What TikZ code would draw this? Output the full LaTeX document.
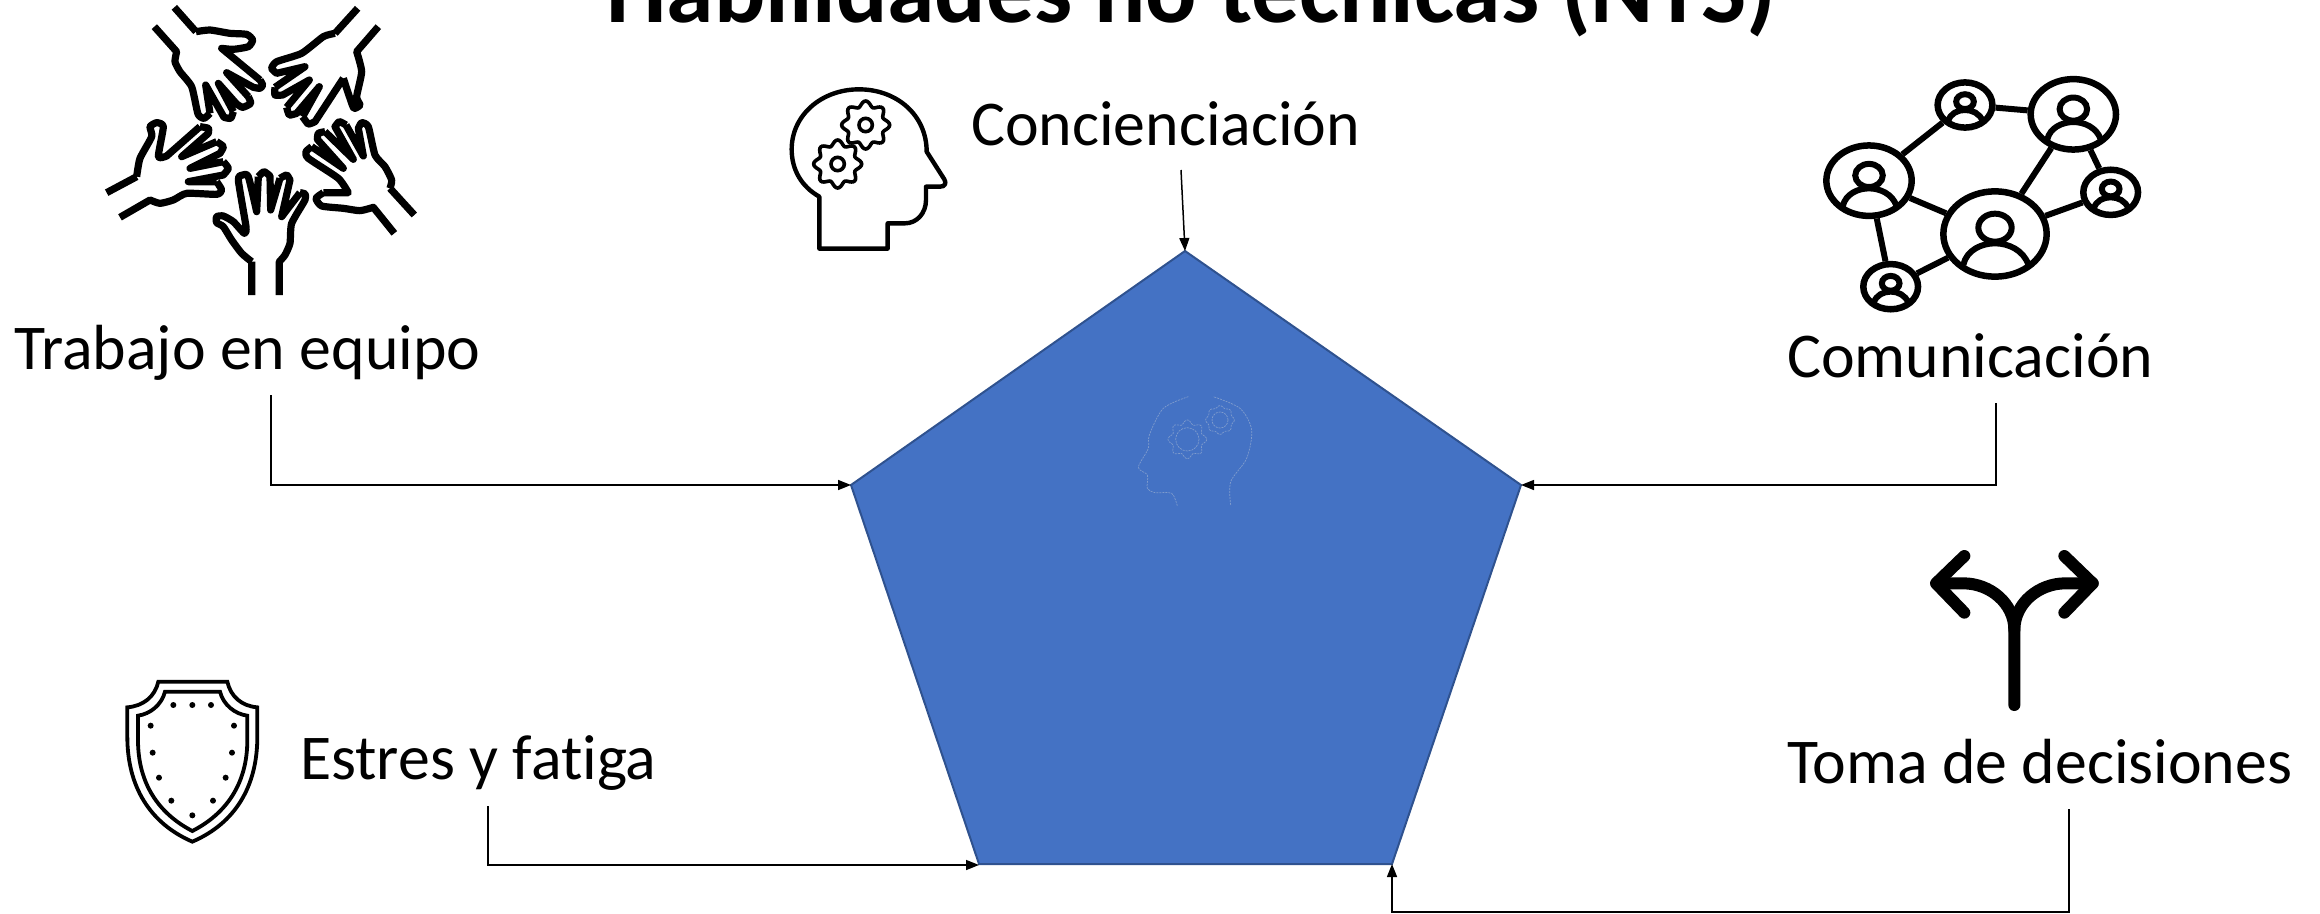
\documentclass[tikz,border=0pt]{standalone}
\usepackage{fontspec}
\setmainfont{Carlito}[Ligatures=NoCommon]
\usetikzlibrary{shapes.geometric,arrows.meta}
\definecolor{penta}{HTML}{4472C4}
\definecolor{pentaline}{HTML}{2F528F}
\definecolor{ghost}{HTML}{7F9CCD}
\tikzset{
  label56/.style={anchor=base west,inner sep=0pt,font=\fontsize{63.8}{66}\selectfont},
  titletext/.style={anchor=base,inner sep=0pt,font=\fontsize{95.8}{98}\selectfont\bfseries},
  conn/.style={draw=black,line width=1.5pt,-{Stealth[length=13pt,width=10pt,inset=0pt]}},
  handline/.style={draw=black,line width=7.2pt,line join=round},
  iconline/.style={draw=black,line width=4.4pt,line join=round},
  thinicon/.style={draw=black,line width=3.8pt,line join=miter},
  commlink/.style={draw=black,line width=6pt},
  commcircle/.style={ellipse,draw=black,line width=6.5pt,inner sep=0pt},
  forkline/.style={draw=black,line width=12pt,line cap=round,line join=round},
  ghostline/.style={draw=ghost,line width=0.7pt,dash pattern=on 2pt off 1pt},
  crop/.style={x=0.33333pt,y=-0.33333pt}
}
\newcommand{\commperson}[4]{%
  \node[commcircle,minimum width={#4*103.3pt},minimum height={#4*85.3pt}] (#1) at (#2,#3) {};
  \begin{scope}[shift={(#2,#3)},scale=#4]
    \draw[draw=black,line width=6pt] (0,-19) ellipse (50 and 42);
    \draw[draw=black,line width=6pt] (-95,92) .. controls (-85,48) and (-40,28) .. (0,28) .. controls (40,28) and (85,48) .. (100,92);
  \end{scope}}
\newcommand{\gearshape}[6]{% cx cy r amp hub style
  \draw[#6] plot[domain=0:360,samples=97,smooth] ({#1+(#3+#4*cos(8*\x))*cos(\x)},{#2+(#3+#4*cos(8*\x))*sin(\x)}) -- cycle;
  \draw[#6] (#1,#2) circle (#5);}
\begin{document}
\begin{tikzpicture}[x=1pt,y=-1pt]
\useasboundingbox (0,0) rectangle (2320,913);
\clip (0,0) rectangle (2320,913);

% title
\node[titletext] (title) at (1191,22) {Habilidades no técnicas (NTS)};

% pentagon
\coordinate (ptop) at (1185,251);
\coordinate (pright) at (1521,485);
\coordinate (pbr) at (1392,864);
\coordinate (pbl) at (979,864);
\coordinate (pleft) at (851,485);
\draw[fill=penta,draw=pentaline,line width=2pt,line join=miter] (ptop) -- (pright) -- (pbr) -- (pbl) -- (pleft) -- cycle;

% faint head on the pentagon
\begin{scope}[shift={(1100,380)},crop]
  \draw[ghostline] plot[smooth,tension=0.5] coordinates {(392,375) (392,305) (440,235) (455,150) (420,85) (340,50)};
  \draw[ghostline] plot[smooth,tension=0.5] coordinates {(265,50) (190,85) (148,165) (145,205) (115,262) (142,285) (142,325) (165,338) (215,340) (232,378)};
  \gearshape{262}{178}{52}{6}{35}{ghostline}
  \gearshape{360}{120}{40}{3}{24}{ghostline}
\end{scope}

% labels
\node[label56] (lconc) at (971,145) {Concienciación};
\node[label56] (ltrab) at (14,369) {Trabajo en equipo};
\node[label56] (lcomu) at (1787,377) {Comunicación};
\node[label56] (lestr) at (300,779) {Estres y fatiga};
\node[label56] (ltoma) at (1787,783) {Toma de decisiones};

% connectors
\coordinate (sconc) at (1181,170);
\coordinate (strab) at (271,395);
\coordinate (scomu) at (1996,403);
\coordinate (sestr) at (488,806);
\coordinate (stoma) at (2069,809);
\coordinate (ttoma) at (1392,912);
\coordinate (pblend) at (979,865);
\draw[conn] (sconc) -- (ptop);
\draw[conn] (strab) |- (pleft);
\draw[conn] (scomu) |- (pright);
\draw[conn] (sestr) |- (pblend);
\draw[conn] (stoma) |- (ttoma) -- (pbr);

% hands
\begin{scope}[shift={(60,0)},crop]
  % bottom hand
  \draw[handline] (575,885) -- (575,785) plot[smooth,tension=0.35] coordinates {(575,785) (545,760) (515,720) (490,680) (470,668) (470,650) (490,648) (520,665) (553,700) (558,680) (535,540) (548,525) (565,530) (590,635)} -- (595,530) plot[smooth,tension=0.35] coordinates {(595,530) (612,515) (630,528)} -- (632,630) -- (660,535) plot[smooth,tension=0.35] coordinates {(660,535) (680,525) (690,540)} -- (665,650) -- (720,578) plot[smooth,tension=0.35] coordinates {(720,578) (735,582) (735,600) (695,670) (690,730) (675,765) (658,785)} -- (658,885);
  % upper left hand
  \draw[handline] (343,22) -- (408,95) plot[smooth,tension=0.35] coordinates {(408,95) (450,90) (510,100) (560,103) (578,120) (565,140) (520,148) (485,145)} -- (600,240) plot[smooth,tension=0.35] coordinates {(600,240) (608,255) (600,265) (580,262)} -- (500,218) -- (565,290) plot[smooth,tension=0.35] coordinates {(565,290) (572,310) (548,322) (530,312)} -- (475,250) -- (520,335) plot[smooth,tension=0.35] coordinates {(520,335) (512,355) (492,352)} -- (437,255) -- (450,340) plot[smooth,tension=0.35] coordinates {(450,340) (432,355) (414,342) (395,260) (360,215) (345,185) (350,155)} -- (283,80);
  % upper right hand
  \draw[handline] (893,25) -- (825,100) plot[smooth,tension=0.35] coordinates {(825,100) (790,110) (725,160) (650,185) (635,205) (650,220)} -- (735,200) -- (645,262) plot[smooth,tension=0.35] coordinates {(645,262) (645,285) (668,285)} -- (748,240) -- (680,322) plot[smooth,tension=0.35] coordinates {(680,322) (688,345) (710,340)} -- (778,260) -- (728,350) plot[smooth,tension=0.35] coordinates {(728,350) (745,372) (765,365)} -- (850,235) plot[smooth,tension=0.35] coordinates {(850,235) (870,295) (882,325) (900,315) (890,290) (905,215) (890,155)} -- (955,80);
  % right hand
  \draw[handline] (1063,645) -- (990,565) plot[smooth,tension=0.35] coordinates {(990,565) (995,540) (975,500) (945,465) (925,380) (905,368) (895,385)} -- (910,468) -- (858,375) plot[smooth,tension=0.35] coordinates {(858,375) (838,365) (825,380)} -- (880,478) -- (795,395) plot[smooth,tension=0.35] coordinates {(795,395) (775,400) (772,418)} -- (850,505) -- (755,440) plot[smooth,tension=0.35] coordinates {(755,440) (738,455) (745,475) (835,535) (865,578)} -- (790,578) plot[smooth,tension=0.35] coordinates {(790,578) (768,595) (785,618) (850,625) (900,632) (940,622)} -- (1003,700);
  % left hand
  \draw[handline] (140,578) -- (230,530) plot[smooth,tension=0.35] coordinates {(230,530) (240,475) (275,410) (270,380) (290,368) (310,380) (295,470) (320,468)} -- (420,380) plot[smooth,tension=0.35] coordinates {(420,380) (445,385) (445,400)} -- (365,470) -- (470,425) plot[smooth,tension=0.35] coordinates {(470,425) (490,440) (480,460)} -- (390,505) -- (490,485) plot[smooth,tension=0.35] coordinates {(490,485) (505,505) (490,525)} -- (385,545) -- (470,545) plot[smooth,tension=0.35] coordinates {(470,545) (485,570) (470,583) (380,580) (340,600) (300,610) (270,600)} -- (180,652);
\end{scope}

% head with gears
\begin{scope}[shift={(760,60)},crop]
  \draw[iconline] (178,410) .. controls (125,380) and (95,330) .. (95,268) .. controls (95,165) and (185,88) .. (297,88) .. controls (410,88) and (500,165) .. (500,275) -- (553,358) .. controls (560,370) and (555,380) .. (540,380) -- (498,380) -- (498,420) .. controls (498,460) and (470,490) .. (435,490) -- (383,490) -- (383,566) -- (178,566) -- cycle;
  \gearshape{317}{195}{64}{8}{20}{draw=black,line width=3.6pt}
  \gearshape{233}{312}{64}{8}{20}{draw=black,line width=3.6pt}
\end{scope}

% communication network
\begin{scope}[shift={(1800,60)},crop]
  \commperson{cbig}{585}{522}{1}
  \commperson{ctr}{820}{163}{0.826}
  \commperson{cleft}{207}{362}{0.826}
  \commperson{ctop}{495}{135}{0.53}
  \commperson{cright}{932}{397}{0.53}
  \commperson{cbot}{272}{680}{0.53}
  \draw[commlink] (cleft) -- (ctop);
  \draw[commlink] (ctop) -- (ctr);
  \draw[commlink] (cbig) -- (ctr);
  \draw[commlink] (ctr) -- (cright);
  \draw[commlink] (cbig) -- (cright);
  \draw[commlink] (cleft) -- (cbig);
  \draw[commlink] (cleft) -- (cbot);
  \draw[commlink] (cbot) -- (cbig);
\end{scope}

% shield
\begin{scope}[shift={(110,670)},crop]
  \draw[thinicon] (145,35) -- (352,35) .. controls (362,80) and (395,108) .. (442,112) -- (442,200) .. controls (442,350) and (375,460) .. (247,515) .. controls (120,460) and (52,350) .. (52,200) -- (52,112) .. controls (100,108) and (135,80) .. (145,35) -- cycle;
  \draw[thinicon] (165,65) -- (330,65) .. controls (340,105) and (375,132) .. (412,137) -- (412,210) .. controls (412,340) and (350,430) .. (247,483) .. controls (145,430) and (84,340) .. (84,210) -- (84,137) .. controls (120,132) and (155,105) .. (165,65) -- cycle;
  \foreach \p in {(190,105),(247,105),(303,105),(122,167),(372,167),(128,248),(366,248),(147,323),(347,323),(184,392),(309,392),(247,436)}
    \fill[black] \p circle (9);
\end{scope}

% fork arrow
\begin{scope}[shift={(1900,530)},crop]
  \draw[forkline] (343,525) -- (343,300) .. controls (343,220) and (270,160) .. (190,160) -- (110,160);
  \draw[forkline] (343,300) .. controls (343,220) and (416,160) .. (496,160) -- (578,160);
  \draw[forkline] (193,78) -- (108,160) -- (193,248);
  \draw[forkline] (493,78) -- (578,160) -- (493,248);
\end{scope}
\end{tikzpicture}
\end{document}
